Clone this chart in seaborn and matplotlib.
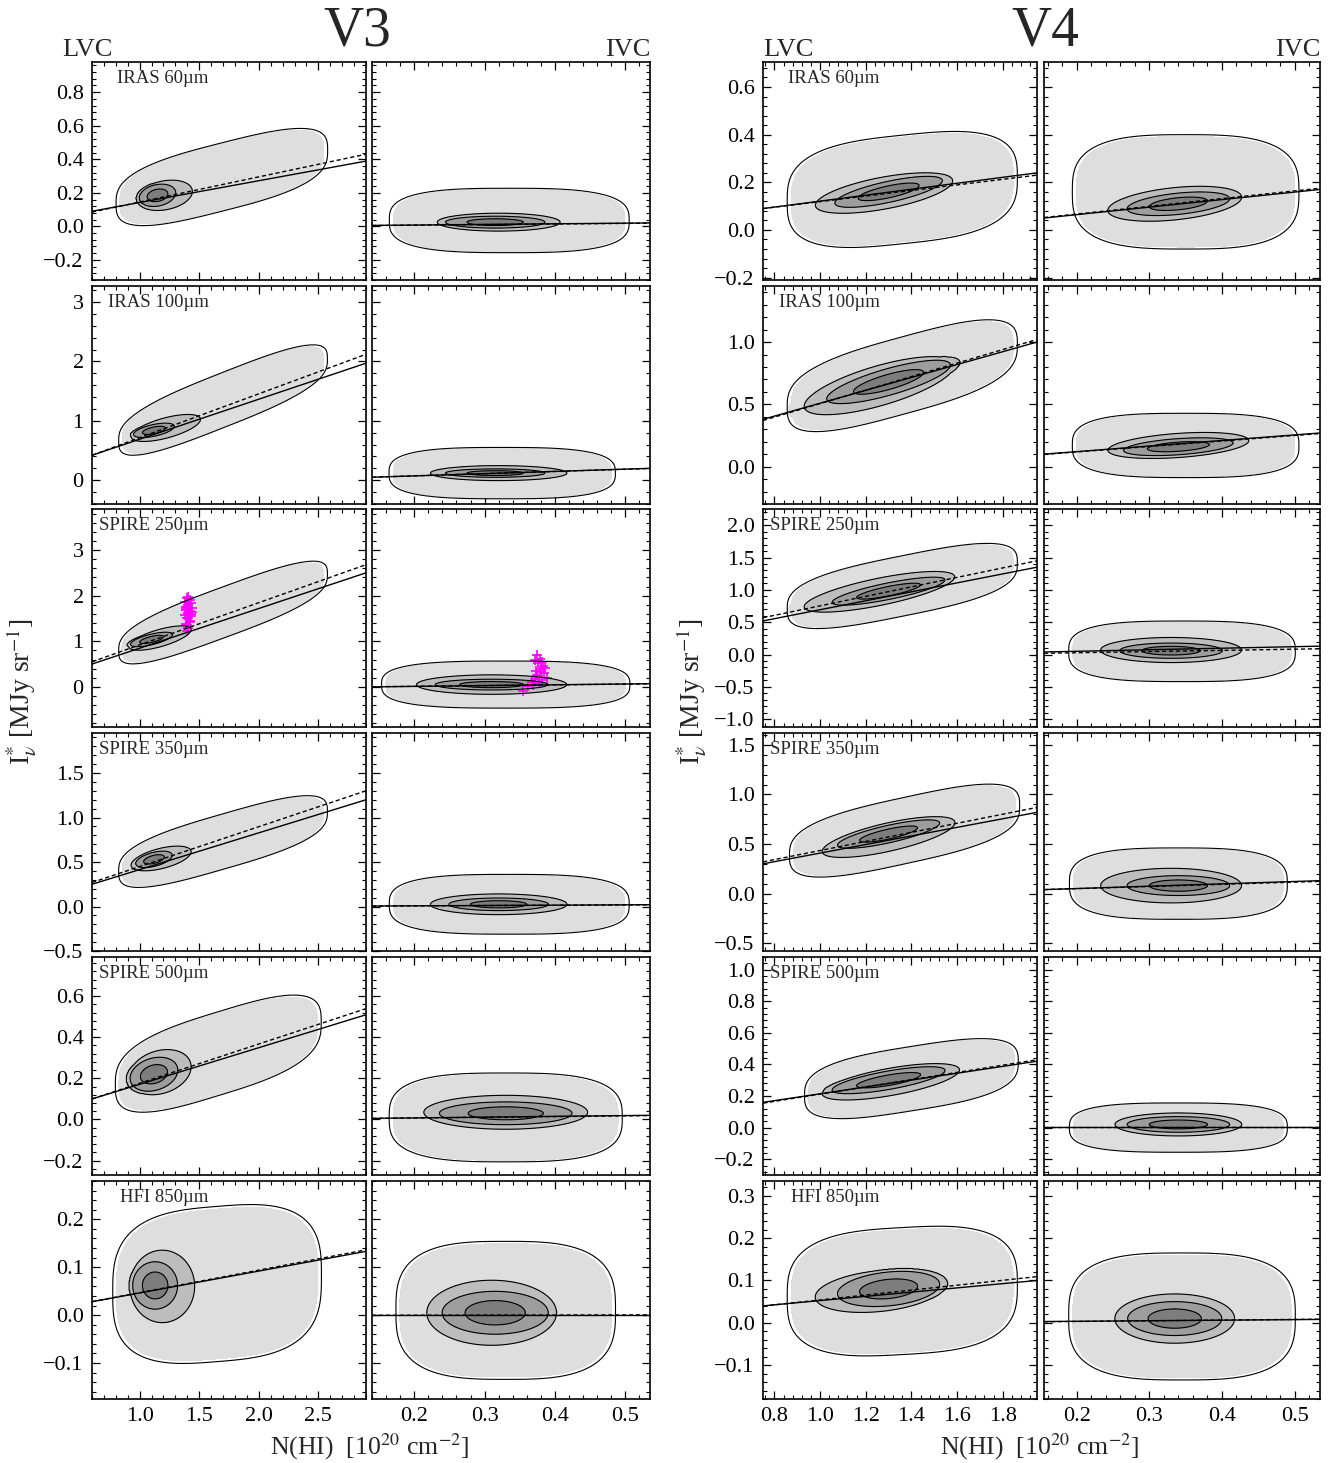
import numpy as np
import matplotlib
matplotlib.use("Agg")
import matplotlib.pyplot as plt
from matplotlib.ticker import MultipleLocator, AutoMinorLocator, FuncFormatter
import seaborn as sns

# ---- data ----
bands = ["IRAS 60µm", "IRAS 100µm", "SPIRE 250µm", "SPIRE 350µm", "SPIRE 500µm", "HFI 850µm"]

v3_lvc_xlim = (0.6, 2.9)
v3_ivc_xlim = (0.14, 0.535)
v4_lvc_xlim = (0.75, 1.95)
v4_ivc_xlim = (0.155, 0.535)

v3_ylims = [(-0.32, 0.98), (-0.40, 3.27), (-0.88, 3.9), (-0.5, 1.95), (-0.27, 0.79), (-0.175, 0.28)]
v4_ylims = [(-0.21, 0.705), (-0.3, 1.45), (-1.12, 2.25), (-0.58, 1.62), (-0.3, 1.08), (-0.18, 0.335)]
v3_ystep = [0.2, 1, 1, 0.5, 0.2, 0.1]
v4_ystep = [0.2, 0.5, 0.5, 0.5, 0.2, 0.1]

# fit lines (slope, intercept): solid and dashed
v3_lvc_fit = [(0.130, 0.012), (0.674, 0.016), (0.870, -0.022), (0.413, 0.002), (0.178, -0.007), (0.0457, 0.0006)]
v3_lvc_dash = [(0.150, -0.005), (0.739, -0.023), (0.926, -0.006), (0.448, 0.001), (0.191, -0.015), (0.047, 0.0)]
v3_ivc_fit = [(0.038, 0.0), (0.38, -0.003), (0.177, -0.025), (0.038, 0.0), (0.038, 0.0), (0.0, 0.0)]
v3_ivc_dash = [(0.035, 0.0), (0.37, 0.0), (0.160, -0.020), (0.035, 0.0), (0.035, 0.0), (0.002, -0.0005)]
v4_lvc_fit = [(0.125, -0.004), (0.517, -0.008), (0.692, 0.001), (0.433, -0.025), (0.217, -0.003), (0.050, 0.0025)]
v4_lvc_dash = [(0.117, 0.002), (0.542, -0.036), (0.733, 0.020), (0.458, -0.024), (0.229, -0.017), (0.058, -0.004)]
v4_ivc_fit = [(0.316, 0.001), (0.447, 0.031), (0.237, 0.003), (0.237, 0.003), (0.0, 0.005), (0.013, 0.001)]
v4_ivc_dash = [(0.324, 0.002), (0.440, 0.030), (0.184, -0.009), (0.220, 0.005), (0.0, 0.003), (0.016, 0.0)]

# contour shapes: (x0, y0, sx, sy, tilt)
# env = outermost (light grey), mid = second level, core = two darkest levels
v3_lvc_env = [(1.69, 0.294, 0.74, 0.17, 0.18), (1.70, 1.35, 0.73, 0.39, 0.79), (1.70, 1.63, 0.73, 0.47, 0.96),
              (1.70, 0.73, 0.73, 0.26, 0.385), (1.66, 0.32, 0.72, 0.17, 0.177), (1.65, 0.065, 0.73, 0.135, 0.02)]
v3_lvc_mid = [(1.21, 0.185, 0.24, 0.09, 0.1), (1.22, 0.88, 0.30, 0.18, 0.5), (1.17, 1.07, 0.27, 0.20, 0.7),
              (1.18, 0.54, 0.26, 0.12, 0.3), (1.17, 0.23, 0.27, 0.11, 0.1), (1.19, 0.06, 0.28, 0.078, 0.0)]
v3_lvc_core = [(1.15, 0.185, 0.13, 0.055, 0.1), (1.12, 0.84, 0.145, 0.085, 0.4), (1.10, 1.04, 0.15, 0.10, 0.6),
               (1.12, 0.53, 0.13, 0.068, 0.3), (1.12, 0.22, 0.17, 0.068, 0.1), (1.13, 0.062, 0.16, 0.042, 0.0)]
v3_ivc_env = [(0.335, 0.035, 0.142, 0.16, 0.0), (0.325, 0.12, 0.134, 0.36, 0.0), (0.33, 0.05, 0.147, 0.43, 0.0),
              (0.335, 0.025, 0.142, 0.28, 0.0), (0.33, 0.01, 0.138, 0.18, 0.0), (0.33, 0.01, 0.13, 0.12, 0.0)]
v3_ivc_mid = [(0.32, 0.025, 0.09, 0.055, 0.0), (0.32, 0.12, 0.10, 0.13, 0.0), (0.31, 0.05, 0.11, 0.22, 0.0),
              (0.32, 0.025, 0.10, 0.12, 0.0), (0.33, 0.035, 0.12, 0.085, 0.0), (0.31, 0.005, 0.095, 0.07, 0.0)]
v3_ivc_core = [(0.315, 0.025, 0.06, 0.03, 0.0), (0.315, 0.12, 0.06, 0.06, 0.0), (0.31, 0.05, 0.068, 0.10, 0.0),
               (0.32, 0.025, 0.06, 0.06, 0.0), (0.33, 0.03, 0.08, 0.047, 0.0), (0.315, 0.005, 0.064, 0.038, 0.0)]
v4_lvc_env = [(1.36, 0.17, 0.42, 0.19, 0.10), (1.36, 0.73, 0.42, 0.26, 0.5), (1.36, 1.06, 0.42, 0.39, 0.71),
              (1.37, 0.635, 0.42, 0.28, 0.5), (1.40, 0.31, 0.39, 0.17, 0.23), (1.36, 0.075, 0.42, 0.125, 0.03)]
v4_lvc_mid = [(1.28, 0.155, 0.31, 0.07, 0.17), (1.26, 0.65, 0.34, 0.17, 0.5), (1.26, 0.97, 0.34, 0.22, 0.7),
              (1.30, 0.57, 0.30, 0.15, 0.5), (1.31, 0.29, 0.31, 0.09, 0.25), (1.26, 0.075, 0.29, 0.05, 0.05)]
v4_lvc_core = [(1.30, 0.16, 0.20, 0.038, 0.2), (1.30, 0.68, 0.23, 0.093, 0.5), (1.30, 0.98, 0.21, 0.11, 0.7),
               (1.30, 0.60, 0.19, 0.076, 0.5), (1.30, 0.30, 0.21, 0.05, 0.25), (1.30, 0.08, 0.19, 0.034, 0.05)]
v4_ivc_env = [(0.35, 0.16, 0.13, 0.20, 0.0), (0.35, 0.17, 0.13, 0.215, 0.0), (0.345, 0.05, 0.13, 0.39, 0.0),
              (0.34, 0.10, 0.125, 0.30, 0.0), (0.34, 0.0, 0.125, 0.13, 0.0), (0.345, 0.015, 0.13, 0.125, 0.0)]
v4_ivc_mid = [(0.335, 0.11, 0.095, 0.07, 0.3), (0.34, 0.17, 0.10, 0.10, 0.4), (0.33, 0.07, 0.10, 0.20, 0.0),
              (0.33, 0.08, 0.10, 0.18, 0.0), (0.34, 0.02, 0.09, 0.075, 0.0), (0.335, 0.01, 0.085, 0.06, 0.0)]
v4_ivc_core = [(0.34, 0.11, 0.06, 0.038, 0.3), (0.34, 0.16, 0.064, 0.055, 0.4), (0.33, 0.06, 0.06, 0.10, 0.0),
               (0.34, 0.08, 0.06, 0.085, 0.0), (0.34, 0.02, 0.06, 0.042, 0.0), (0.335, 0.01, 0.055, 0.034, 0.0)]

# magenta points in the V3 SPIRE 250 panels
mag_lvc_x = [1.40, 1.41, 1.39, 1.42, 1.40, 1.43, 1.38, 1.41, 1.42, 1.39, 1.44, 1.40, 1.41,
             1.43, 1.38, 1.42, 1.40, 1.41, 1.39, 1.43, 1.42, 1.40, 1.41, 1.44, 1.39]
mag_lvc_y = [1.22, 1.30, 1.38, 1.45, 1.50, 1.55, 1.58, 1.62, 1.66, 1.70, 1.72, 1.75, 1.80,
             1.84, 1.86, 1.90, 1.95, 1.98, 1.68, 1.60, 1.42, 1.35, 1.52, 1.64, 1.76]
mag_ivc_x = [0.355, 0.362, 0.368, 0.372, 0.375, 0.378, 0.380, 0.383, 0.376, 0.371,
             0.385, 0.388, 0.374, 0.379, 0.382, 0.377, 0.373, 0.386, 0.369, 0.381]
mag_ivc_y = [-0.08, 0.02, 0.10, 0.18, 0.25, 0.32, 0.40, 0.45, 0.52, 0.60,
             0.30, 0.20, 0.70, 0.62, 0.15, 0.08, 0.35, 0.42, 0.05, 0.55]

# ---- style ----
sns.set_theme(style="ticks")
plt.rcParams["font.family"] = ["Liberation Serif", "DejaVu Serif"]
plt.rcParams["mathtext.fontset"] = "stix"

W, H = 1335, 1463
fig = plt.figure(figsize=(W / 100, H / 100), dpi=100)

fill_levels = [0.06, 0.25, 0.5, 0.8, 10]
fill_colors = ["#dedede", "#bdbdbd", "#9d9d9d", "#7d7d7d"]
line_levels = [0.045, 0.25, 0.5, 0.8]


def blob(X, Y, b, q=2, p=2):
    # q: shape of the contour (2 = ellipse, larger = squarer); p: steepness of the profile
    x0, y0, sx, sy, k = b
    dx = np.abs((X - x0) / sx)
    dy = np.abs((Y - y0 - k * (X - x0)) / sy)
    r = (dx ** q + dy ** q) ** (1.0 / q)
    return np.exp(-0.5 * r ** p)


def density(X, Y, env, mid, core):
    # each level is set by one shape; inner shapes only count inside their own contour
    e = 0.2 * blob(X, Y, env, q=3, p=6)
    m = 0.4 * blob(X, Y, mid)
    c = blob(X, Y, core)
    m = np.where(m >= 0.2, m, 0)
    c = np.where(c >= 0.4, c, 0)
    return np.maximum.reduce([e, m, c])


def style_axes(ax, xstep, ystep, showx, showy, intlab):
    ax.xaxis.set_major_locator(MultipleLocator(xstep))
    ax.yaxis.set_major_locator(MultipleLocator(ystep))
    ax.xaxis.set_minor_locator(AutoMinorLocator(5))
    ax.yaxis.set_minor_locator(AutoMinorLocator(5))
    ax.tick_params(which="both", direction="in", top=True, right=True, colors="black", labelsize=16, pad=6)
    ax.tick_params(which="major", length=6, width=0.9)
    ax.tick_params(which="minor", length=3, width=0.8)
    if intlab:
        ax.yaxis.set_major_formatter(FuncFormatter(lambda v, p: ("%d" % round(v)).replace("-", "\u2212")))
    else:
        ax.yaxis.set_major_formatter(FuncFormatter(lambda v, p: ("%.1f" % v).replace("-", "\u2212")))
    ax.xaxis.set_major_formatter(FuncFormatter(lambda v, p: "%.1f" % v))
    if not showx:
        ax.set_xticklabels([])
    if not showy:
        ax.set_yticklabels([])
    for sp in ax.spines.values():
        sp.set_linewidth(1.2)
        sp.set_color("black")


def panel(ax, xlim, ylim, env, mid, core, fit, dash):
    xs = np.linspace(xlim[0], xlim[1], 400)
    ys = np.linspace(ylim[0], ylim[1], 400)
    X, Y = np.meshgrid(xs, ys)
    Z = density(X, Y, env, mid, core)
    ax.contourf(X, Y, Z, levels=fill_levels, colors=fill_colors)
    ax.contour(X, Y, Z, levels=line_levels, colors="black", linewidths=0.8)
    lx = np.array(xlim)
    sns.lineplot(x=lx, y=fit[0] * lx + fit[1], ax=ax, color="black", lw=1.0)
    sns.lineplot(x=lx, y=dash[0] * lx + dash[1], ax=ax, color="black", lw=1.0, linestyle=(0, (3, 2)))
    ax.set_xlim(xlim)
    ax.set_ylim(ylim)
    ax.set_xlabel("")
    ax.set_ylabel("")


col_px = [(92, 274), (372, 278), (763, 274), (1044, 276)]
row_top = [62, 286, 509, 733, 957, 1181]
row_h = 218

groups = [
    ("V3", 0, v3_lvc_xlim, v3_ivc_xlim, v3_ylims, v3_ystep, 0.5, 0.1,
     v3_lvc_env, v3_lvc_mid, v3_lvc_core, v3_ivc_env, v3_ivc_mid, v3_ivc_core,
     v3_lvc_fit, v3_lvc_dash, v3_ivc_fit, v3_ivc_dash),
    ("V4", 2, v4_lvc_xlim, v4_ivc_xlim, v4_ylims, v4_ystep, 0.2, 0.1,
     v4_lvc_env, v4_lvc_mid, v4_lvc_core, v4_ivc_env, v4_ivc_mid, v4_ivc_core,
     v4_lvc_fit, v4_lvc_dash, v4_ivc_fit, v4_ivc_dash),
]

for (name, c0, lxlim, ixlim, ylims, ysteps, lxs, ixs,
     lenv, lmid, lcore, ienv, imid, icore, lfit, ldash, ifit, idash) in groups:
    for r in range(6):
        intlab = ysteps[r] == 1
        for j in range(2):
            x0, w = col_px[c0 + j]
            ax = fig.add_axes([x0 / W, 1 - (row_top[r] + row_h) / H, w / W, row_h / H])
            if j == 0:
                panel(ax, lxlim, ylims[r], lenv[r], lmid[r], lcore[r], lfit[r], ldash[r])
                style_axes(ax, lxs, ysteps[r], r == 5, True, intlab)
                ax.text(0.425, 0.925, bands[r], transform=ax.transAxes, ha="right", va="center", fontsize=13.5)
                if name == "V3" and r == 2:
                    sns.scatterplot(x=mag_lvc_x, y=mag_lvc_y, ax=ax, marker="+", color="magenta", s=60, linewidth=1.2)
            else:
                panel(ax, ixlim, ylims[r], ienv[r], imid[r], icore[r], ifit[r], idash[r])
                style_axes(ax, ixs, ysteps[r], r == 5, False, intlab)
                if name == "V3" and r == 2:
                    sns.scatterplot(x=mag_ivc_x, y=mag_ivc_y, ax=ax, marker="+", color="magenta", s=60, linewidth=1.2)

# headers and axis labels
for name, cx, lx, rx, xl, yl in (("V3", 357, 62, 650, 370, 22), ("V4", 1045, 763, 1320, 1040, 692)):
    fig.text(cx / W, 1 - 31 / H, name, ha="center", va="center", fontsize=40)
    fig.text(lx / W, 1 - 50 / H, "LVC", ha="left", va="center", fontsize=19)
    fig.text(rx / W, 1 - 50 / H, "IVC", ha="right", va="center", fontsize=19)
    fig.text(xl / W, 1 - 1447 / H, r"N(HI)  [10$^{20}$ cm$^{-2}$]", ha="center", va="center", fontsize=18.5)
    fig.text(yl / W, 1 - 692 / H, r"I$^{*}_{\nu}$ [MJy sr$^{-1}$]", ha="center", va="center",
             rotation=90, fontsize=20)

fig.savefig("out.png", dpi=100)
